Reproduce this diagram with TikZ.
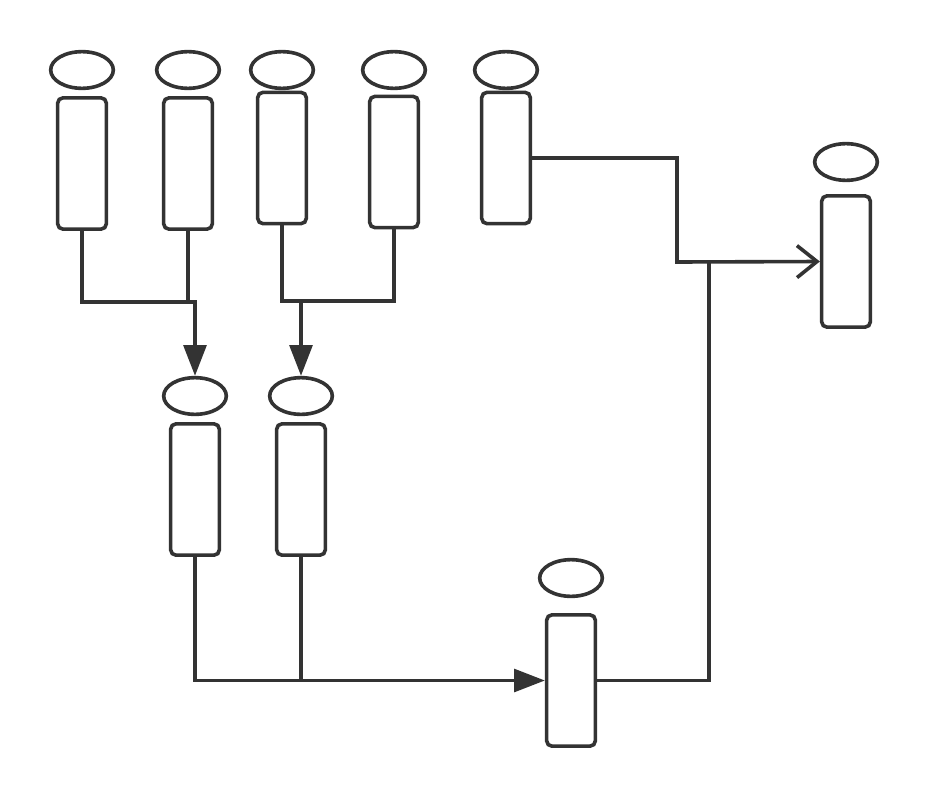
\documentclass[tikz,border=0pt]{standalone}
\usepackage{xcolor}
\usetikzlibrary{arrows.meta,shapes.geometric}
\definecolor{ink}{HTML}{333333}

\begin{document}
\begin{tikzpicture}[x=0.75pt,y=-0.75pt,line width=2.7pt,
  lid/.style={draw=ink,ellipse,minimum width=47pt,minimum height=27.5pt,inner sep=0pt},
  tube/.style={draw=ink,rounded corners=4pt,minimum width=36.5pt,minimum height=98.5pt,inner sep=0pt},
  link/.style={draw=ink},
  tri/.style={link,-{Triangle[length=23pt,width=17pt]}},
  barb/.style={link,-{Straight Barb[length=15pt,width=24pt]}}]
\useasboundingbox (0,0) rectangle (930,799);
% top row
\node[lid] (e1) at (82,70) {};
\node[lid] (e2) at (188,70) {};
\node[lid] (e3) at (282,70) {};
\node[lid] (e4) at (394,70) {};
\node[lid] (e5) at (506,70) {};
\node[tube] (r1) at (82,163.5) {};
\node[tube] (r2) at (188,163.5) {};
\node[tube] (r3) at (282,158) {};
\node[tube] (r4) at (394,162) {};
\node[tube] (r5) at (506,158) {};
% right
\node[lid] (e6) at (846,162) {};
\node[tube] (r6) at (846,261.5) {};
% middle row
\node[lid] (e7) at (195,396) {};
\node[lid] (e8) at (301,396) {};
\node[tube] (r7) at (195,489.5) {};
\node[tube] (r8) at (301,489.5) {};
% bottom
\node[lid] (e9) at (571,578) {};
\node[tube] (r9) at (571,680.5) {};
% connectors
\coordinate (j1) at (195,302);
\coordinate (j2) at (301,301);
\coordinate (k1) at (677,262);
\coordinate (k2) at (709,262);
\draw[tri] (r1.south) |- (j1) -- (e7.north);
\draw[link] (r2.south) -- (r2.south |- j1);
\draw[tri] (r3.south) |- (j2) -- (e8.north);
\draw[link] (r4.south) |- (j2);
\draw[barb] (r5.east) -| (k1) -- (r6.west);
\draw[tri] (r7.south) |- (r9.west);
\draw[link] (r8.south) -- (r8.south |- r9.west);
\draw[link] (r9.east) -| (k2);
\end{tikzpicture}
\end{document}
